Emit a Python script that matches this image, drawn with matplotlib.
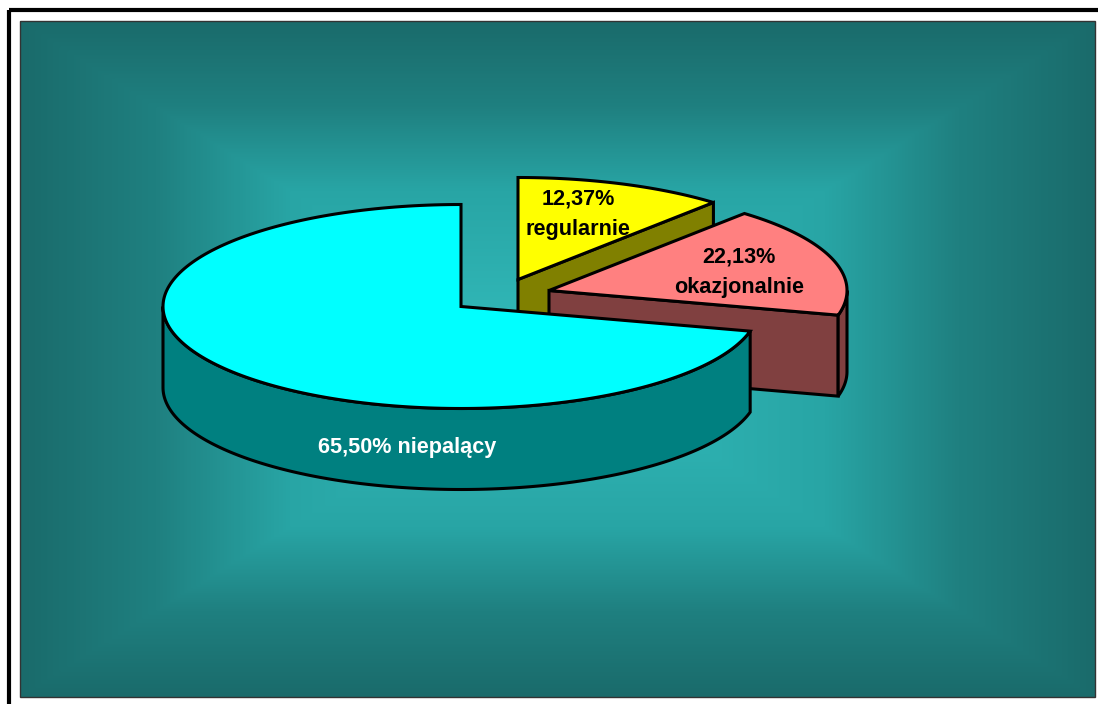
#!/usr/bin/python

import matplotlib
matplotlib.use('Agg')
import matplotlib.pyplot as plt
from matplotlib.colors import LinearSegmentedColormap
from matplotlib.patches import Polygon, Rectangle
import numpy as np

plt.rcParams['font.family'] = ['Liberation Sans', 'DejaVu Sans']

# drawn clockwise from 12 o'clock
labels = ['12,37%\nregularnie', '22,13%\nokazjonalnie', '65,50% niepalący']
values = [12.37, 22.13, 65.50]
top_colors = ['#ffff00', '#ff8080', '#00ffff']
side_colors = ['#808000', '#804040', '#008080']
text_colors = ['black', 'black', 'white']

RX, RY, DEPTH = 298, 102, 81
CENTER = (461, 306.5)
EXPLODE = [(57, -27), (88, -16), (0, 0)]
LABEL_POS = [(578, 214), (739, 272), (407, 448)]


def projected(frac):
    # Excel's perspective squeezes the angles a bit on the far side
    t = 2 * np.pi * frac
    return t + np.radians(-15.9) * np.sin(t) + np.radians(7.6) * np.sin(2 * t)


def rim(c, a0, a1):
    a = np.linspace(a0, a1, 200)
    return np.column_stack([c[0] + RX * np.sin(a), c[1] - RY * np.cos(a)])


def wall(ax, pts, color):
    low = pts[::-1] + [0, DEPTH]
    ax.add_patch(Polygon(np.vstack([pts, low]), closed=True, fc=color,
                         ec='black', lw=2.2, joinstyle='miter'))


fig = plt.figure(figsize=(10.98, 7.04), dpi=100, facecolor='white')
ax = fig.add_axes([0, 0, 1, 1])
ax.axis('off')

# background, rectangular gradient
yy, xx = np.mgrid[-1:1:338j, -1:1:538j]
grad = np.maximum(np.abs(xx), np.abs(yy))
cmap = LinearSegmentedColormap.from_list(
    'bg', [(0, '#33bcbc'), (0.5, '#28a5a5'), (0.75, '#1f8080'), (1, '#1a6b6b')])
ax.imshow(grad, extent=(20, 1095, 697, 21), cmap=cmap, vmin=0, vmax=1,
          aspect='auto', interpolation='bilinear', zorder=0)
ax.set_xlim(0, 1098)
ax.set_ylim(704, 0)
ax.add_patch(Rectangle((20, 21), 1075, 676, fc='none', ec='#333333', lw=1))
ax.add_patch(Rectangle((9, 9.5), 1100, 720, fc='none', ec='black', lw=3))

fracs = np.concatenate([[0], np.cumsum(values) / np.sum(values)])
for i in range(len(values)):
    c = (CENTER[0] + EXPLODE[i][0], CENTER[1] + EXPLODE[i][1])
    a0, a1 = projected(fracs[i]), projected(fracs[i + 1])
    arc = rim(c, a0, a1)

    if i < 2:
        # cut face towards the viewer
        wall(ax, np.array([c, arc[-1]]), side_colors[i])
    if i == 1:
        # outer rim seen past the cut, from the rightmost point down
        wall(ax, rim(c, 0.5 * np.pi, a1), side_colors[i])
    if i == 2:
        # front rim only, from the cut round to the left side
        wall(ax, rim(c, a0, 1.5 * np.pi), side_colors[i])

    ax.add_patch(Polygon(np.vstack([[c], arc]), closed=True, fc=top_colors[i],
                         ec='black', lw=2.2, joinstyle='miter'))
    ax.text(LABEL_POS[i][0], LABEL_POS[i][1], labels[i], color=text_colors[i],
            fontsize=15.6, fontweight='bold', ha='center', va='center',
            linespacing=1.6)

fig.savefig('out.png', dpi=100)
